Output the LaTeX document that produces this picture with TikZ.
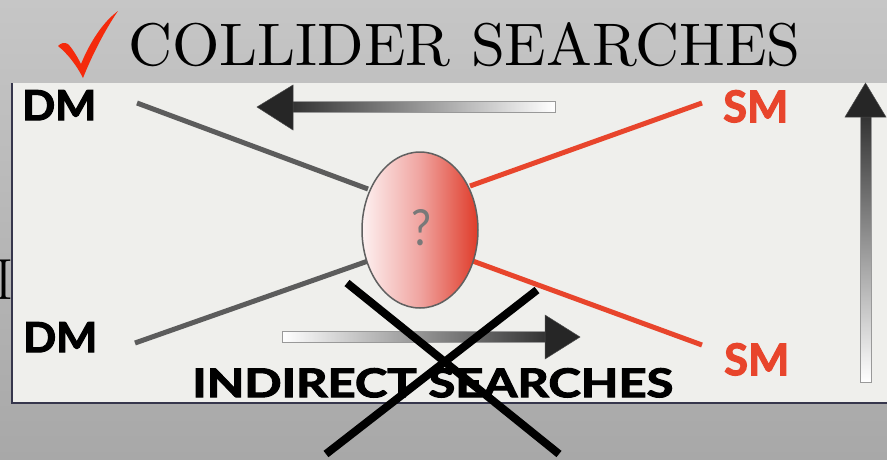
\documentclass[tikz,border=0pt]{standalone}
\usepackage{fontspec}
\usepackage{graphicx}
\usetikzlibrary{shapes.geometric}
\newfontfamily\gs{Lato}
\newfontfamily\gsh{Lato}[BoldFeatures={FakeBold=2.5}]
\definecolor{bgtop}{HTML}{C6C6C6}
\definecolor{bgbot}{HTML}{A8A8A8}
\definecolor{panelc}{HTML}{EFEFEC}
\definecolor{framec}{HTML}{36364C}
\definecolor{smred}{HTML}{E8452C}
\definecolor{dmgray}{HTML}{5C5C5C}
\definecolor{chk}{HTML}{F42A0C}
\definecolor{blobl}{HTML}{FDF1F1}
\definecolor{blobm}{HTML}{F0A4A0}
\definecolor{blobr}{HTML}{DF3B29}
\newcommand\fitbox[3]{\resizebox{#1pt}{#2pt}{#3}}
\begin{document}
\begin{tikzpicture}[x=1pt,y=-1pt,
  lbl/.style={inner sep=0pt, anchor=north west},
  feyn/.style={line width=5pt},
  shaft/.style={draw=gray!80, line width=0.8pt},
  head/.style={fill=black!85, draw=black!70, line width=0.5pt},
  crossline/.style={line width=8pt, black}]
\useasboundingbox (0,0) rectangle (887,459);
\shade[top color=bgtop,bottom color=bgbot] (0,0) rectangle (887,459);
% panel
\fill[panelc] (12,83) rectangle (887,403);
\draw[framec, line width=1.5pt] (12,83) -- (12,403) -- (887,403);
% check mark
\fill[chk] (58,46) .. controls (61,43) and (64,42) .. (68,44)
  .. controls (72,48) and (77,56) .. (81,64)
  .. controls (90,42) and (103,22) .. (118,11)
  .. controls (109,24) and (95,48) .. (83,78)
  .. controls (77,66) and (68,54) .. (58,46) -- cycle;
% title
\node[lbl] (title) at (128,22) {\fitbox{672}{43}{COLLIDER SEARCHES}};
% cut-off letter at left
\node[inner sep=0pt, font=\fontsize{58}{60}\selectfont] (cut) at (4,280) {I};
% feynman lines
\coordinate (dmA) at (137,103); \coordinate (dmAe) at (368,189);
\coordinate (dmB) at (135,343); \coordinate (dmBe) at (368,261);
\coordinate (smA) at (702,103); \coordinate (smAe) at (470,186);
\coordinate (smB) at (702,345); \coordinate (smBe) at (470,260);
\draw[feyn, dmgray] (dmA) -- (dmAe);
\draw[feyn, dmgray] (dmB) -- (dmBe);
\draw[feyn, smred] (smA) -- (smAe);
\draw[feyn, smred] (smB) -- (smBe);
% blob
\node[ellipse, minimum width=116pt, minimum height=156pt, inner sep=0pt,
  left color=blobl, right color=blobr, middle color=blobm,
  draw=gray!75!black, line width=1.5pt] (blob) at (420,230) {};
\node[text=gray!95!black] (qm) at (421,228) {\fitbox{20}{36}{\gs ?}};
% top arrow (left)
\shadedraw[shaft, left color=black!80, right color=white] (292,101.5) rectangle (555,112.5);
\filldraw[head] (257,107) -- (293,85) -- (293,130) -- cycle;
% bottom arrow (right)
\shadedraw[shaft, left color=white, right color=black!80] (282,331.5) rectangle (546,342.5);
\filldraw[head] (580,337) -- (545,315) -- (545,359) -- cycle;
% vertical arrow (up)
\shadedraw[shaft, top color=black!80, bottom color=white] (860,116) rectangle (871,382);
\filldraw[head] (865.5,83) -- (845,117) -- (886,117) -- cycle;
% labels
\node[lbl] (dm1) at (22,90) {\fitbox{74}{30}{\gsh\bfseries DM}};
\node[lbl] (dm2) at (23,322) {\fitbox{74}{30}{\gsh\bfseries DM}};
\node[lbl, text=smred] (sm1) at (723,90) {\fitbox{65}{32}{\gsh\bfseries SM}};
\node[lbl, text=smred] (sm2) at (724,343) {\fitbox{65}{32}{\gsh\bfseries SM}};
\node[lbl] (ind) at (192,368) {\fitbox{481}{29}{\gsh\bfseries INDIRECT SEARCHES}};
% cross
\coordinate (xa1) at (347,283); \coordinate (xa2) at (559,454);
\coordinate (xb1) at (537,290); \coordinate (xb2) at (326,454);
\draw[crossline] (xa1) -- (xa2);
\draw[crossline] (xb1) -- (xb2);
\end{tikzpicture}
\end{document}
